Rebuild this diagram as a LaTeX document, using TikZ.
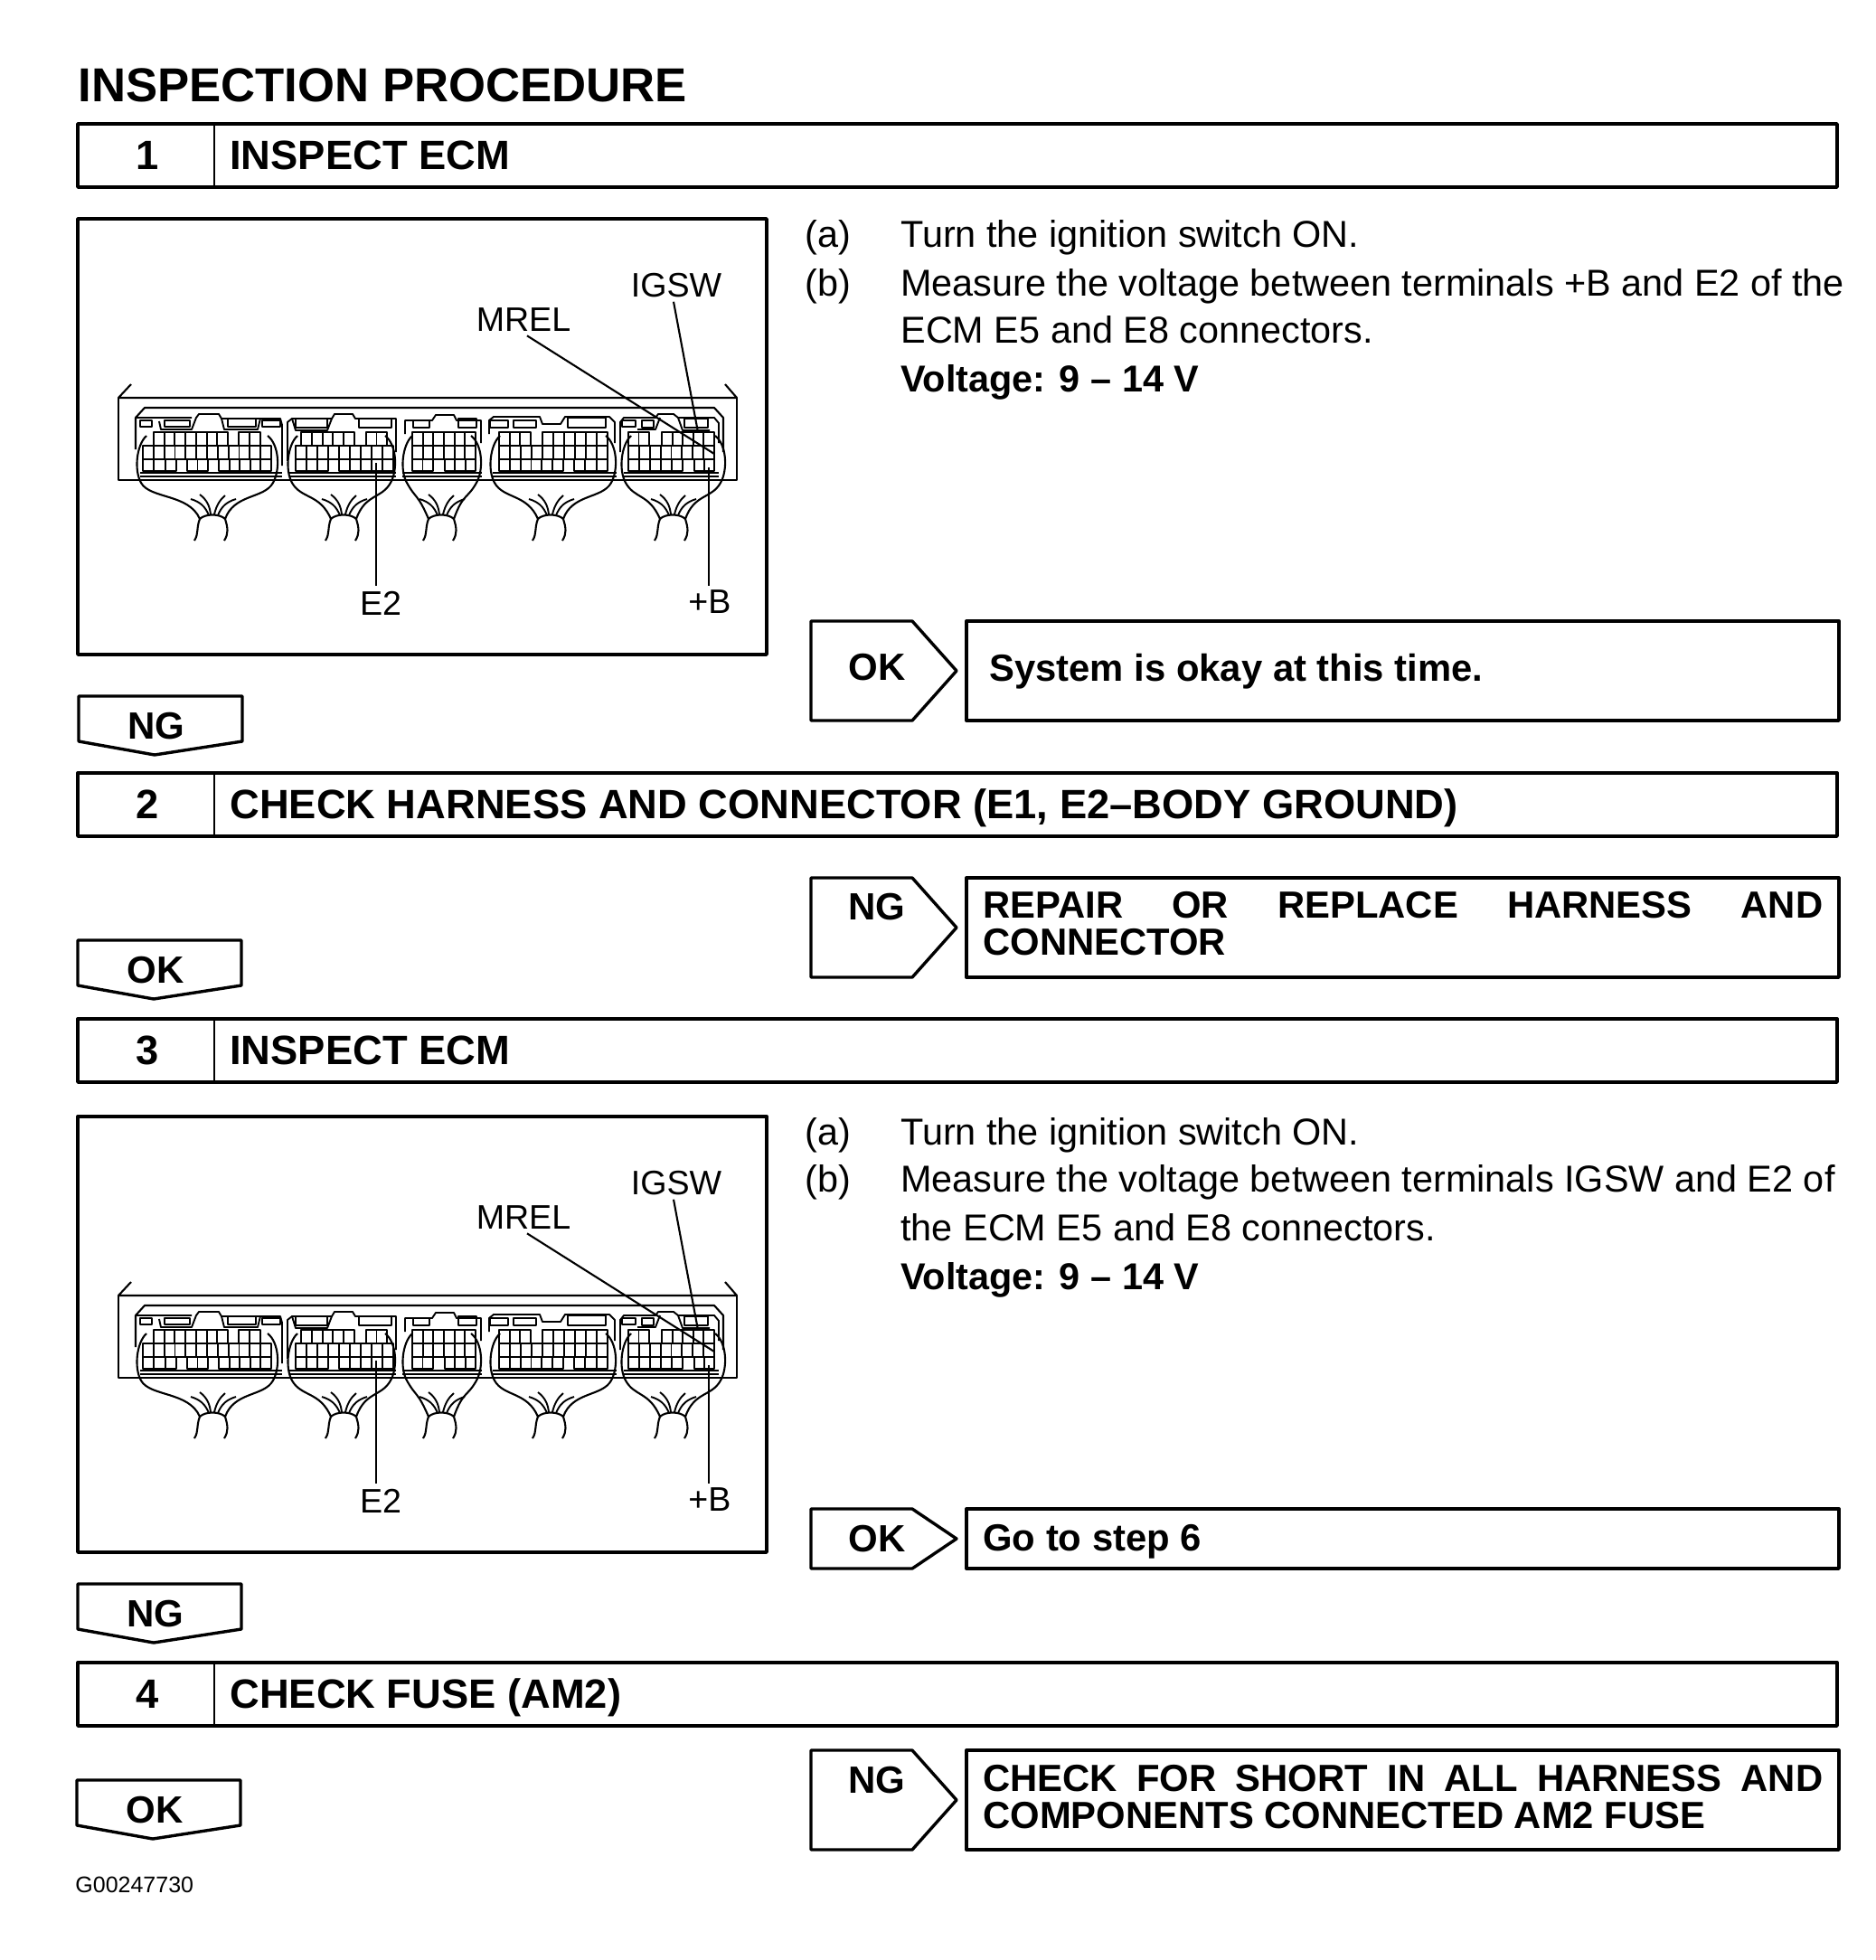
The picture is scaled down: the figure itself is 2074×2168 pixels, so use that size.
\documentclass[tikz,border=0pt]{standalone}
\usepackage{fontspec}
\setmainfont{Liberation Sans}
\newcommand\fsz[1]{\fontsize{#1}{#1}\selectfont}
\tikzset{
 x=0.5pt,y=-0.5pt,
 frame/.style={line width=1.7pt,line join=round},
 thin part/.style={line width=1.05pt,line join=round},
 fine/.style={line width=0.95pt,line join=round},
 title/.style={anchor=base west,inner sep=0pt,font=\bfseries\fsz{22.65}},
 num/.style={anchor=base,inner sep=0pt,font=\bfseries\fsz{22.65}},
 body/.style={anchor=base west,inner sep=0pt,font=\fsz{20.7}},
 bodyb/.style={anchor=base west,inner sep=0pt,font=\bfseries\fsz{20.7}},
 tag/.style={anchor=center,inner sep=0pt,font=\fsz{18.8}},
 just/.style={anchor=north west,inner sep=0pt,text width=464.5pt,align=justify,font=\bfseries\fontsize{20.9}{20.5}\selectfont},
}
% header bar
\newcommand\hdr[5]{% name, top, bottom, number, title
 \draw[frame] (86,#2) rectangle (2032,#3);
 \draw[thin part] (237,#2) -- (237,#3);
 \node[num] (#1n) at (163,#3-20) {#4};
 \node[title] (#1t) at (254,#3-20) {#5};
}
% downward tab
\newcommand\downtab[4]{% name, top, x-left, label
 \draw[frame] (#3,#2) -- (#3+181,#2) -- (#3+181,#2+50) -- (#3+84,#2+65) -- (#3,#2+50) -- cycle;
 \node[num,anchor=center,font=\bfseries\fsz{21}] (#1) at (#3+86,#2+33) {#4};
}
% right arrow + result box
\newcommand\rightarr[5]{% name, top, bottom, label, label y
 \draw[frame] (897,#2) -- (1009,#2) -- (1058,{(#2+#3)/2}) -- (1009,#3) -- (897,#3) -- cycle;
 \node[num,anchor=center,font=\bfseries\fsz{21}] (#1) at (970,#5) {#4};
 \draw[frame] (1069,#2) rectangle (2034,#3);
}
\newcommand\cells[5]{% x0 x1 y0 y1 n
 \draw[fine] (#1,#3) rectangle (#2,#4);
 \foreach \i in {1,...,#5}{\draw[fine] ({#1+(#2-#1)*\i/#5},#3) -- ({#1+(#2-#1)*\i/#5},#4);}
}
\newcommand\harness[3]{% xl xr cx
 \draw[thin part] (#1+12,482) .. controls (#1+1,492) and (#1-2,520) .. (#1+6,534)
   .. controls (#1+16,552) and (#3-26,546) .. (#3-14,574)
   .. controls (#3-8,568) and (#3+8,568) .. (#3+14,574)
   .. controls (#3+24,546) and (#2-16,552) .. (#2-6,534)
   .. controls (#2+2,520) and (#2+1,492) .. (#2-12,482);
 \draw[thin part] (#3-14,574) .. controls (#3-18,584) and (#3-15,590) .. (#3-20,598);
 \draw[thin part] (#3+14,574) .. controls (#3+17,584) and (#3+18,590) .. (#3+13,598);
 \draw[fine] (#3-24,552) .. controls (#3-14,555) and (#3-8,560) .. (#3-4,570);
 \draw[fine] (#3-14,547) .. controls (#3-6,553) and (#3-3,560) .. (#3-2,569);
 \draw[fine] (#3+14,548) .. controls (#3+8,553) and (#3+4,560) .. (#3+2,569);
 \draw[fine] (#3+26,552) .. controls (#3+16,555) and (#3+10,560) .. (#3+6,570);
}
\newcommand\ecm[2]{% prefix, y shift
\begin{scope}[shift={(0,#2)}]
 \draw[frame] (86,242) rectangle (848,724);
 % housing
 \draw[thin part] (145,425) -- (131,440) -- (815,440) -- (802,425);
 \draw[thin part] (131,440) -- (131,531) -- (815,531) -- (815,440);
 \draw[thin part] (150,497) -- (150,462) -- (160,451) -- (790,451) -- (800,462) -- (800,500);
 \foreach \a/\b in {155/312,320/438,445/533,545/682,690/795}{
   \draw[thin part] (\a,523) -- (\b,523);
   \draw[fine] (\a,527) -- (\b,527);}
 % block 1 top
 \draw[thin part] (155,465) rectangle (168,472) (182,465) rectangle (210,472) (252,463) rectangle (283,472) (290,465) rectangle (310,472);
 \draw[fine] (150,462) -- (212,462) (176,466) -- (178,475) -- (212,475) -- (217,462) -- (220,458) -- (242,458) -- (245,463) -- (310,463) -- (312,470) -- (312,515);
 \draw[fine] (245,463) -- (248,475) -- (285,475) -- (288,463);
 % block 2 top
 \draw[thin part] (327,463) rectangle (362,473) (397,463) rectangle (433,473);
 \draw[fine] (318,510) -- (318,467) -- (323,463) -- (367,463) -- (370,458) -- (390,458) -- (393,463) -- (438,463) -- (438,500);
 \draw[fine] (323,463) -- (327,476) -- (362,476) -- (367,463);
 % block 3 top
 \draw[thin part] (457,465) rectangle (475,473) (507,463) rectangle (527,473);
 \draw[fine] (448,480) -- (448,465) -- (478,465) -- (482,459) -- (502,459) -- (505,465) -- (532,465) -- (532,490);
 % block 4 top
 \draw[thin part] (542,465) rectangle (562,473) (568,465) rectangle (593,473) (628,462) rectangle (670,473);
 \draw[fine] (541,480) -- (541,465) -- (546,461) -- (597,461) -- (600,469) -- (620,469) -- (625,461) -- (674,461) -- (680,467) -- (680,490);
 % block 5 top
 \draw[thin part] (688,465) rectangle (703,472) (710,465) rectangle (723,473) (757,463) rectangle (783,473);
 \draw[fine] (686,500) -- (686,467) -- (690,462) -- (725,462) -- (728,458) -- (745,458) -- (750,462) -- (790,462) -- (795,468) -- (795,490);
 \draw[fine] (705,475) -- (725,475) -- (730,462) (750,462) -- (755,476) -- (785,476);
 % terminals
 \cells{170}{252}{478}{493}{7} \cells{264}{288}{478}{493}{2}
 \cells{158}{300}{493}{508}{12}
 \cells{158}{195}{508}{521}{3} \cells{207}{230}{508}{521}{2} \cells{242}{300}{508}{521}{5}
 \cells{333}{392}{478}{493}{5} \cells{405}{428}{478}{493}{2}
 \cells{327}{435}{493}{508}{9}
 \cells{327}{363}{508}{521}{3} \cells{375}{435}{508}{521}{5}
 \cells{456}{526}{478}{493}{6}
 \cells{456}{526}{493}{508}{6}
 \cells{456}{479}{508}{521}{2} \cells{492}{526}{508}{521}{3}
 \cells{552}{587}{478}{493}{3} \cells{600}{672}{478}{493}{6}
 \cells{552}{672}{493}{508}{10}
 \cells{552}{623}{508}{521}{6} \cells{635}{672}{508}{521}{3}
 \cells{695}{718}{478}{493}{2} \cells{732}{790}{478}{493}{5}
 \cells{695}{790}{493}{508}{8}
 \cells{695}{755}{508}{521}{5} \cells{768}{790}{508}{521}{2}
 % harnesses
 \harness{150}{308}{235}
 \harness{317}{438}{380}
 \harness{444}{533}{488}
 \harness{541}{682}{609}
 \harness{686}{803}{744}
 % labels and leaders
 \node[tag] (#1igsw) at (748,316) {IGSW};
 \node[tag] (#1mrel) at (579,354) {MREL};
 \node[tag] (#1etwo) at (421,667) {E2};
 \node[tag] (#1plusb) at (785,666) {+B};
 \coordinate (#1igswend) at (772,478);
 \coordinate (#1mrelend) at (790,502);
 \coordinate (#1etwoend) at (416,512);
 \coordinate (#1plusbend) at (784,517);
 \draw[thin part] (#1igsw.south) ++(-3,4) -- (#1igswend);
 \draw[thin part] (#1mrel.south) ++(4,4) -- (#1mrelend);
 \draw[thin part] (#1etwoend) -- (416,648);
 \draw[thin part] (#1plusbend) -- (784,648);
\end{scope}
}
\begin{document}
\begin{tikzpicture}
\useasboundingbox (0,0) rectangle (2074,2168);
\fill[white] (0,0) rectangle (2074,2168);
\node[title,font=\bfseries\fsz{26.35}] (main) at (86,112) {INSPECTION PROCEDURE};

\hdr{a}{137}{207}{1}{INSPECT ECM}
\ecm{p}{0}
\node[body] (a1) at (890,273) {(a)};
\node[body] (a1t) at (996,273) {Turn the ignition switch ON.};
\node[body] (b1) at (890,327) {(b)};
\node[body] (b1t) at (996,327) {Measure the voltage between terminals +B and E2 of the};
\node[body] (b1u) at (996,379) {ECM E5 and E8 connectors.};
\node[bodyb] (v1) at (996,433) {Voltage: 9 -- 14 V};
\rightarr{ok1}{687}{797}{OK}{738}
\node[title,font=\bfseries\fsz{20.9}] (r1) at (1094,753) {System is okay at this time.};
\downtab{ng1}{770}{87}{NG}

\hdr{b}{855}{925}{2}{CHECK HARNESS AND CONNECTOR (E1, E2--BODY GROUND)}
\rightarr{ng2}{971}{1081}{NG}{1003}
\node[just] (r2) at (1087,986) {REPAIR OR REPLACE HARNESS AND\linebreak CONNECTOR};
\downtab{ok2}{1040}{86}{OK}

\hdr{c}{1127}{1197}{3}{INSPECT ECM}
\ecm{q}{993}
\node[body] (a3) at (890,1266) {(a)};
\node[body] (a3t) at (996,1266) {Turn the ignition switch ON.};
\node[body] (b3) at (890,1318) {(b)};
\node[body] (b3t) at (996,1318) {Measure the voltage between terminals IGSW and E2 of};
\node[body] (b3u) at (996,1372) {the ECM E5 and E8 connectors.};
\node[bodyb] (v3) at (996,1426) {Voltage: 9 -- 14 V};
\rightarr{ok3}{1669}{1735}{OK}{1702}
\node[title,font=\bfseries\fsz{20.9}] (r3) at (1087,1715) {Go to step 6};
\downtab{ng3}{1752}{86}{NG}

\hdr{d}{1839}{1909}{4}{CHECK FUSE (AM2)}
\rightarr{ng4}{1936}{2046}{NG}{1969}
\node[just] (r4) at (1087,1952) {CHECK FOR SHORT IN ALL HARNESS AND\linebreak COMPONENTS CONNECTED AM2 FUSE};
\downtab{ok4}{1969}{85}{OK}

\node[anchor=base west,inner sep=0pt,font=\fsz{12.5}] (code) at (83,2093) {G00247730};
\end{tikzpicture}
\end{document}
